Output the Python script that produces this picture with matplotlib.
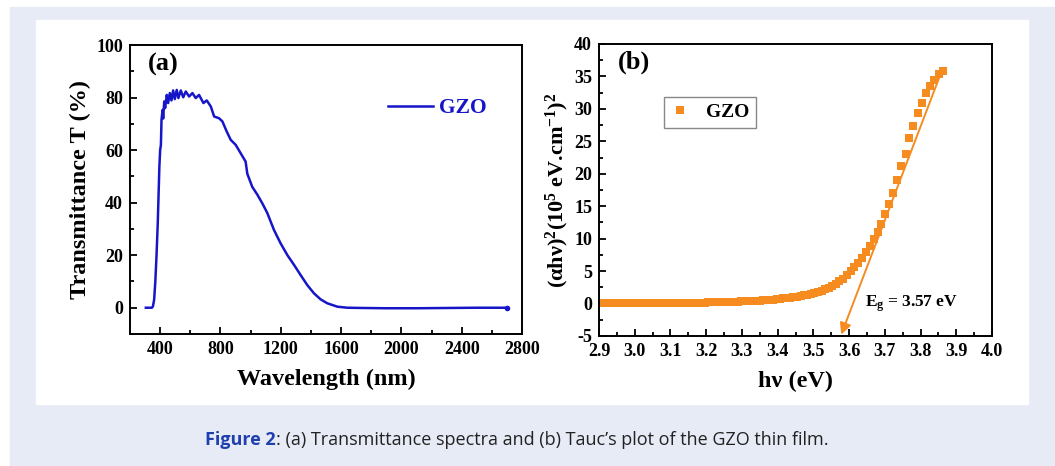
import matplotlib.pyplot as plt
from matplotlib.patches import Rectangle
from matplotlib.ticker import MultipleLocator

# (a) transmittance spectrum
wavelength = [305, 330, 345, 352, 360, 368, 376, 384, 390, 395, 400, 405,
              409, 416, 420, 427, 433, 444, 453, 464, 475, 486, 497, 510,
              521, 537, 553, 570, 592, 614, 636, 658, 687, 709, 736, 758,
              791, 813, 842, 868, 901, 934, 967, 978, 1011, 1045, 1078, 1111,
              1155, 1199, 1244, 1288, 1332, 1376, 1420, 1464, 1508, 1575,
              1641, 1750, 1900, 2100, 2300, 2500, 2700]
transmittance = [0, 0, 0, 0.5, 3, 10, 20, 32, 44, 54, 60, 62,
                 71.5, 75.3, 72, 78.5, 76, 81, 77.9, 81.7, 78.9, 82.7, 79.4, 82.9,
                 79.8, 82.7, 80.1, 82.3, 80.4, 81.7, 79.8, 81, 77.9, 78.9, 76.6, 72.8,
                 72.1, 70.9, 67, 63.9, 62, 58.8, 55.6, 51, 46, 43, 39.7, 36,
                 29.6, 24.5, 20, 16.3, 12.4, 8.6, 5.5, 3.2, 1.7, 0.4,
                 0, -0.1, -0.2, -0.2, -0.1, 0, 0]

# (b) Tauc plot
photon_energy = [3.863, 3.851, 3.839, 3.827, 3.815, 3.804, 3.792, 3.780, 3.769, 3.758,
                 3.746, 3.735, 3.724, 3.713, 3.701, 3.690, 3.680, 3.669, 3.658, 3.647,
                 3.636, 3.626, 3.615, 3.605, 3.594, 3.584, 3.573, 3.563, 3.553, 3.543,
                 3.533, 3.523, 3.513, 3.503, 3.493, 3.483, 3.473, 3.464, 3.454, 3.444,
                 3.435, 3.425, 3.416, 3.407, 3.397, 3.388, 3.379, 3.370, 3.360, 3.351,
                 3.342, 3.333, 3.324, 3.316, 3.307, 3.298, 3.289, 3.280, 3.272, 3.263,
                 3.255, 3.246, 3.238, 3.229, 3.221, 3.212, 3.204, 3.196, 3.188, 3.179,
                 3.171, 3.163, 3.155, 3.147, 3.139, 3.131, 3.123, 3.116, 3.108, 3.100,
                 3.092, 3.085, 3.077, 3.069, 3.062, 3.054, 3.047, 3.039, 3.032, 3.024,
                 3.017, 3.010, 3.002, 2.995, 2.988, 2.981, 2.974, 2.967, 2.959, 2.952,
                 2.945, 2.938, 2.931, 2.925, 2.918, 2.911, 2.904]
alpha_hv_sq = [35.8, 35.3, 34.4, 33.5, 32.4, 30.9, 29.3, 27.4, 25.5, 23.1,
               21.2, 19.0, 17.1, 15.4, 13.8, 12.3, 11.1, 9.97, 8.83, 7.9,
               7.04, 6.27, 5.6, 4.98, 4.37, 3.85, 3.44, 3.03, 2.70, 2.42,
               2.18, 1.97, 1.79, 1.63, 1.49, 1.36, 1.25, 1.15, 1.06, 0.98,
               0.91, 0.84, 0.78, 0.72, 0.67, 0.62, 0.58, 0.54, 0.50, 0.47,
               0.44, 0.41, 0.38, 0.36, 0.34, 0.32, 0.30, 0.28, 0.26, 0.25,
               0.23, 0.22, 0.21, 0.20, 0.19, 0.18, 0.17, 0.16, 0.15, 0.14,
               0.13, 0.12, 0.12, 0.11, 0.10, 0.10, 0.09, 0.09, 0.08, 0.08,
               0.07, 0.07, 0.06, 0.06, 0.06, 0.05, 0.05, 0.05, 0.04, 0.04,
               0.04, 0.04, 0.03, 0.03, 0.03, 0.03, 0.03, 0.02, 0.02, 0.02,
               0.02, 0.02, 0.02, 0.02, 0.02, 0.01, 0.01]

# linear fit drawn as an arrow (top end, tip)
fit_x = [3.8535, 3.578]
fit_y = [35.0, -4.78]

blue = "#1616c8"
orange = "#f68b1f"

plt.rcParams["font.family"] = ["Liberation Serif", "DejaVu Serif"]
plt.rcParams["font.weight"] = "bold"
plt.rcParams["axes.labelweight"] = "bold"
plt.rcParams["axes.unicode_minus"] = False
plt.rcParams["mathtext.fontset"] = "custom"
plt.rcParams["mathtext.rm"] = "Liberation Serif:bold"
plt.rcParams["mathtext.it"] = "Liberation Serif:bold"
plt.rcParams["mathtext.bf"] = "Liberation Serif:bold"

fig = plt.figure(figsize=(10.55, 4.66), dpi=100)
fig.patch.set_facecolor("white")

# lavender box + white panel behind the plots
fig.add_artist(Rectangle((10 / 1055, 0), 1045 / 1055, 459 / 466,
                         transform=fig.transFigure, color="#e7ebf6", zorder=-2))
fig.add_artist(Rectangle((36 / 1055, 62 / 466), 992 / 1055, 384 / 466,
                         transform=fig.transFigure, color="white", zorder=-1))

ax1 = fig.add_axes([130 / 1055, 132 / 466, 392 / 1055, 289 / 466])
ax2 = fig.add_axes([599 / 1055, 130 / 466, 393 / 1055, 292 / 466])

for ax in (ax1, ax2):
    ax.set_facecolor("white")
    for s in ax.spines.values():
        s.set_linewidth(1.4)
    ax.tick_params(which="both", direction="in", top=False, right=False,
                   width=1.3, labelsize=13, pad=5)
    ax.tick_params(which="major", length=5)
    ax.tick_params(which="minor", length=3)

# (a)
ax1.plot(wavelength, transmittance, color=blue, lw=1.8, label="GZO")
ax1.plot(wavelength[-1:], transmittance[-1:], "o", color=blue, ms=3)
ax1.set_xlim(200, 2800)
ax1.set_ylim(-10, 100)
ax1.xaxis.set_major_locator(MultipleLocator(400))
ax1.xaxis.set_minor_locator(MultipleLocator(200))
ax1.yaxis.set_major_locator(MultipleLocator(20))
ax1.yaxis.set_minor_locator(MultipleLocator(10))
ax1.set_xticks([400, 800, 1200, 1600, 2000, 2400, 2800])
ax1.set_yticks([0, 20, 40, 60, 80, 100])
ax1.set_xlabel("Wavelength (nm)", fontsize=17.5, labelpad=8)
ax1.set_ylabel("Transmittance T (%)", fontsize=17.5, labelpad=4)
ax1.text(0.046, 0.931, "(a)", transform=ax1.transAxes, fontsize=19, va="center")
ax1.legend(loc="center left", bbox_to_anchor=(0.658, 0.782), frameon=False,
           fontsize=15.5, handlelength=2.1, handletextpad=0.25,
           borderpad=0, borderaxespad=0, labelcolor="linecolor")

# (b)
ax2.plot(photon_energy, alpha_hv_sq, "s", color=orange, ms=5.2, mew=0, label="GZO")
ax2.annotate("", xy=(fit_x[1], fit_y[1]), xytext=(fit_x[0], fit_y[0]),
             arrowprops=dict(arrowstyle="-|>", color=orange, lw=1.4,
                             mutation_scale=17, shrinkA=0, shrinkB=0))
ax2.set_xlim(2.9, 4.0)
ax2.set_ylim(-5, 40)
ax2.xaxis.set_major_locator(MultipleLocator(0.1))
ax2.xaxis.set_minor_locator(MultipleLocator(0.05))
ax2.yaxis.set_major_locator(MultipleLocator(5))
ax2.yaxis.set_minor_locator(MultipleLocator(2.5))
ax2.xaxis.set_major_formatter(plt.FormatStrFormatter("%.1f"))
ax2.set_xlabel("h\u03bd (eV)", fontsize=17.5, labelpad=8)
ax2.set_ylabel("(\u03b1h\u03bd)$^2$(10$^5$ eV.cm$^{-1}$)$^2$", fontsize=16, labelpad=2)
ax2.text(0.048, 0.936, "(b)", transform=ax2.transAxes, fontsize=19, va="center")
ax2.text(3.644, 0, "E$_{g}$ = 3.57 eV", fontsize=12.5, va="center")
ax2.legend(loc="upper left", bbox_to_anchor=(0.165, 0.82), fontsize=14,
           fancybox=False, edgecolor="#888888", framealpha=1, borderaxespad=0,
           handlelength=1.0, handletextpad=0.8, borderpad=0.35, markerscale=1.0)

# caption, bold blue part then regular part
cap_font = ["Open Sans", "DejaVu Sans"]
cap1 = fig.text(205 / 1055, 26 / 466, "Figure 2", family=cap_font,
                weight="bold", color="#1f3fae", fontsize=13, va="center")
fig.canvas.draw()
bb = cap1.get_window_extent()
fig.text(bb.x1 / 1055, 26 / 466,
         ": (a) Transmittance spectra and (b) Tauc\u2019s plot of the GZO thin film.",
         family=cap_font, weight="normal", color="#222222", fontsize=13,
         va="center")

fig.savefig("out.png", dpi=100)
